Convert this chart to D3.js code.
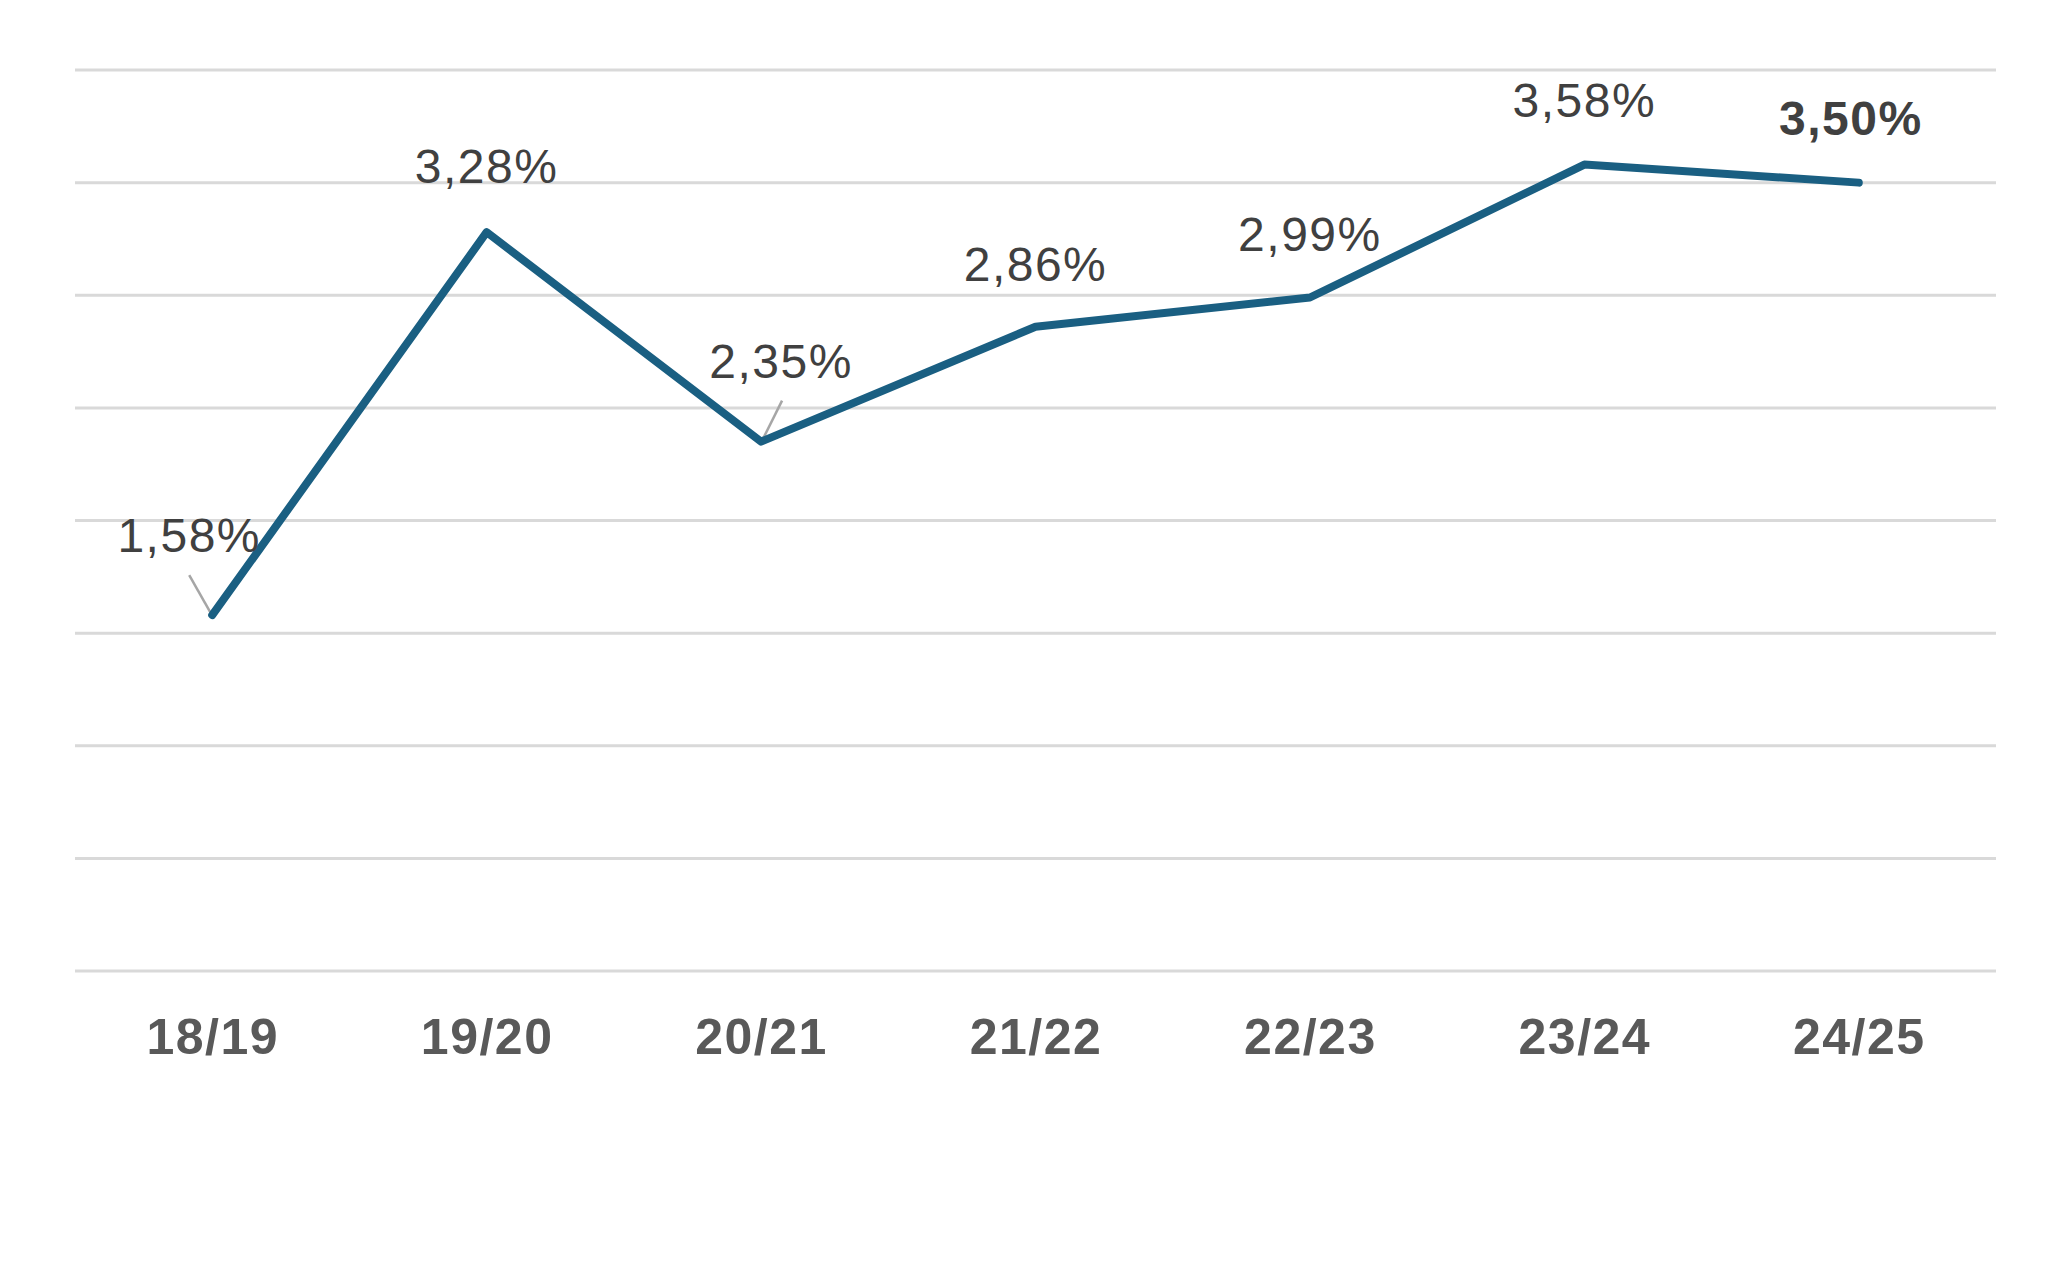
<!DOCTYPE html>
<html lang="es">
<head>
    <meta charset="UTF-8">
    <title>Chart</title>
    <script src="https://d3js.org/d3.v7.min.js"></script>
    <style>
        html, body { margin: 0; padding: 0; background: #fff; }
        #chart svg { display: block; }
    </style>
</head>
<body>
    <div id="chart"></div>
    <script>
        const categories = ["18/19", "19/20", "20/21", "21/22", "22/23", "23/24", "24/25"]
        const values = [1.58, 3.28, 2.35, 2.86, 2.99, 3.58, 3.50]
        const yTicks = [0, 0.5, 1, 1.5, 2, 2.5, 3, 3.5, 4]

        const width = 2047
        const height = 1265
        const margin = {top: 70, right: 51, bottom: 294, left: 75}

        // label placement (dx, dy from point) and optional leader lines
        const labelOffsets = [[-23, -63], [0, -49], [20, -64], [0, -46], [0, -47], [0, -48], [-8, -48]]
        const leaders = {0: [[-23, -40], [-2, -3]], 2: [[21, -41], [2, -3]]}

        const svg = d3.select("#chart").append("svg")
            .attr("width", width)
            .attr("height", height)

        const x = d3.scalePoint()
            .domain(categories)
            .range([margin.left, width - margin.right])
            .padding(0.5)

        const y = d3.scaleLinear()
            .domain([0, 4])
            .range([height - margin.bottom, margin.top])

        // gridlines
        svg.append("g")
            .selectAll("line")
            .data(yTicks)
            .enter().append("line")
            .attr("x1", margin.left)
            .attr("x2", width - margin.right)
            .attr("y1", d => y(d))
            .attr("y2", d => y(d))
            .attr("stroke", "#d9d9d9")
            .attr("stroke-width", 3)

        // x axis labels
        const xAxis = svg.append("g")
            .attr("transform", `translate(0, ${height - margin.bottom})`)
            .call(d3.axisBottom(x).tickSize(0).tickPadding(47))
        xAxis.select(".domain").remove()
        xAxis.selectAll("text")
            .attr("font-family", "'Liberation Sans', Arial, sans-serif")
            .attr("font-size", 50)
            .attr("font-weight", "bold")
            .attr("letter-spacing", 1.5)
            .attr("fill", "#595959")

        const pts = categories.map((c, i) => ({cat: c, v: values[i], i: i}))

        // leader lines
        svg.append("g")
            .selectAll("line")
            .data(pts.filter(d => leaders[d.i]))
            .enter().append("line")
            .attr("x1", d => x(d.cat) + leaders[d.i][0][0])
            .attr("y1", d => y(d.v) + leaders[d.i][0][1])
            .attr("x2", d => x(d.cat) + leaders[d.i][1][0])
            .attr("y2", d => y(d.v) + leaders[d.i][1][1])
            .attr("stroke", "#a6a6a6")
            .attr("stroke-width", 2.5)

        const line = d3.line().x(d => x(d.cat)).y(d => y(d.v))
        svg.append("path")
            .attr("d", line(pts))
            .attr("fill", "none")
            .attr("stroke", "#1a5f82")
            .attr("stroke-width", 8)
            .attr("stroke-linejoin", "round")
            .attr("stroke-linecap", "round")

        // data labels
        svg.append("g")
            .selectAll("text")
            .data(pts)
            .enter().append("text")
            .attr("x", d => x(d.cat) + labelOffsets[d.i][0])
            .attr("y", d => y(d.v) + labelOffsets[d.i][1])
            .attr("text-anchor", "middle")
            .attr("font-family", "'Liberation Sans', Arial, sans-serif")
            .attr("font-size", 48)
            .attr("letter-spacing", 1.5)
            .attr("font-weight", d => d.i === pts.length - 1 ? "bold" : "normal")
            .attr("fill", "#404040")
            .text(d => d.v.toFixed(2).replace(".", ",") + "%")
    </script>
</body>
</html>
